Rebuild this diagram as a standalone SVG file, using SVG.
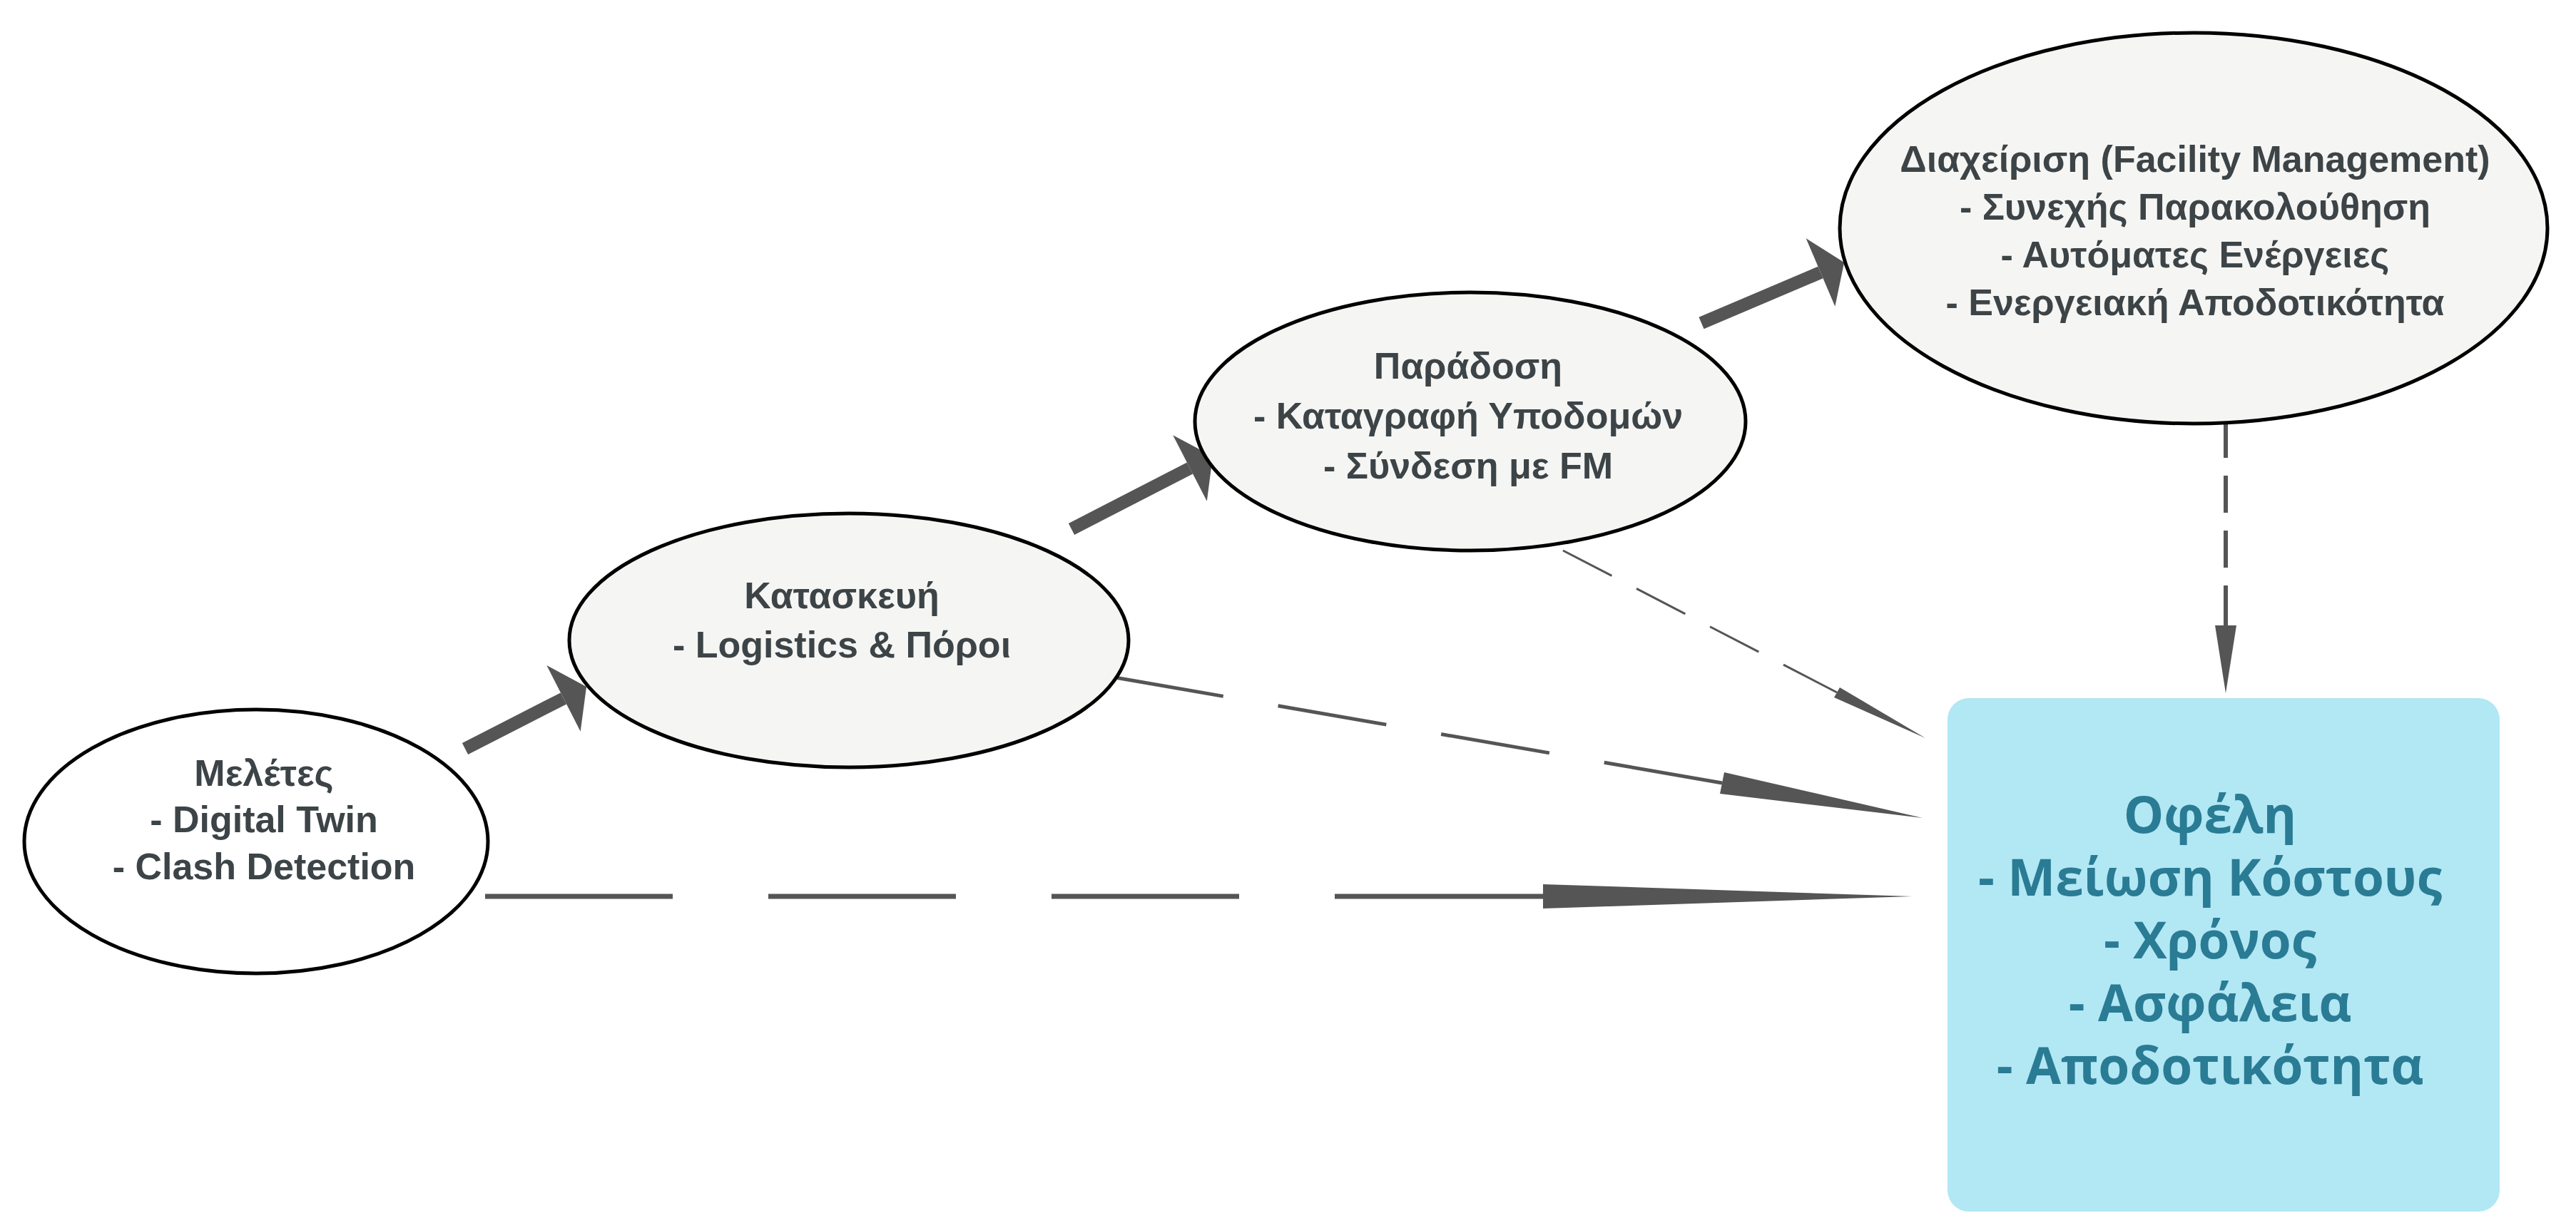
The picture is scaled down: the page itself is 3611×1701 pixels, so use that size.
<svg xmlns="http://www.w3.org/2000/svg" width="3611" height="1701" viewBox="0 0 3611 1701">
  <style>
    .bg { fill: #ffffff; }
    .stage { stroke: #000000; stroke-width: 5; }
    .white { fill: #ffffff; }
    .grey { fill: #f5f5f3; }
    .lbl { font-family: "Liberation Sans", Arial, sans-serif; font-weight: bold; font-size: 52px; fill: #3d4447; text-anchor: middle; }
    .benefit { fill: #b2e7f4; }
    .blbl { font-family: "Open Sans", "Noto Sans", sans-serif; font-weight: bold; font-size: 71px; fill: #2a7b94; text-anchor: middle; }
    .flow { stroke: #555555; stroke-width: 18; fill: none; }
    .dash { stroke: #555555; fill: none; }
    .head { fill: #555555; }
  </style>
  <defs>
    <marker id="bigHead" markerUnits="userSpaceOnUse" viewBox="-1 -60 40 120" refX="0" refY="0" markerWidth="40" markerHeight="120" orient="auto">
      <path d="M0,-52 L36,0 L0,52 Z" fill="#555555"/>
    </marker>
  </defs>
  <rect class="bg" x="0" y="0" width="3611" height="1701"/>

  <g id="connectors">
    <line class="flow" x1="652" y1="1050" x2="790" y2="979.4" marker-end="url(#bigHead)"/>
    <line class="flow" x1="1502" y1="742" x2="1668" y2="656.5" marker-end="url(#bigHead)"/>
    <line class="flow" x1="2385" y1="453" x2="2552" y2="382" marker-end="url(#bigHead)"/>

    <line class="dash" x1="680" y1="1257" x2="2166" y2="1257" stroke-width="7" stroke-dasharray="263 134 263 134 263 134 500"/>
    <polygon class="head" points="2163,1240 2680,1257 2163,1274"/>

    <line class="dash" x1="1563" y1="950" x2="2414" y2="1098" stroke-width="5" stroke-dasharray="154 78 154 78 154 78 400"/>
    <polygon class="head" points="2417,1083 2695,1147 2411,1113"/>

    <line class="dash" x1="2191" y1="772" x2="2575" y2="971" stroke-width="3" stroke-dasharray="77 39 77 39 77 39 200"/>
    <polygon class="head" points="2579,964 2699,1035 2571,978"/>

    <line class="dash" x1="3120" y1="590" x2="3120" y2="877" stroke-width="6" stroke-dasharray="52 25 52 25 52 25 200"/>
    <polygon class="head" points="3105,877 3120,972 3135,877"/>
  </g>

  <g id="node-meletes">
    <ellipse class="stage white" cx="359" cy="1180" rx="325" ry="185"/>
    <text class="lbl" x="370" y="1102">Μελέτες</text>
    <text class="lbl" x="370" y="1167">- Digital Twin</text>
    <text class="lbl" x="370" y="1233">- Clash Detection</text>
  </g>

  <g id="node-kataskevi">
    <ellipse class="stage grey" cx="1190" cy="898" rx="392" ry="178"/>
    <text class="lbl" x="1180" y="853">Κατασκευή</text>
    <text class="lbl" x="1180" y="922">- Logistics &amp; Πόροι</text>
  </g>

  <g id="node-paradosi">
    <ellipse class="stage grey" cx="2061" cy="591" rx="386" ry="181"/>
    <text class="lbl" x="2058" y="531">Παράδοση</text>
    <text class="lbl" x="2058" y="601">- Καταγραφή Υποδομών</text>
    <text class="lbl" x="2058" y="671">- Σύνδεση με FM</text>
  </g>

  <g id="node-diaxeirisi">
    <ellipse class="stage grey" cx="3075" cy="320" rx="496" ry="274"/>
    <text class="lbl" x="3077" y="241">Διαχείριση (Facility Management)</text>
    <text class="lbl" x="3077" y="308">- Συνεχής Παρακολούθηση</text>
    <text class="lbl" x="3077" y="375">- Αυτόματες Ενέργειες</text>
    <text class="lbl" x="3077" y="442">- Ενεργειακή Αποδοτικότητα</text>
  </g>

  <g id="node-ofeli">
    <rect class="benefit" x="2730" y="979" width="774" height="720" rx="30" ry="30"/>
    <text class="blbl" x="3098" y="1168">Οφέλη</text>
    <text class="blbl" x="3098" y="1256">- Μείωση Κόστους</text>
    <text class="blbl" x="3098" y="1344">- Χρόνος</text>
    <text class="blbl" x="3098" y="1432">- Ασφάλεια</text>
    <text class="blbl" x="3098" y="1520">- Αποδοτικότητα</text>
  </g>
</svg>
